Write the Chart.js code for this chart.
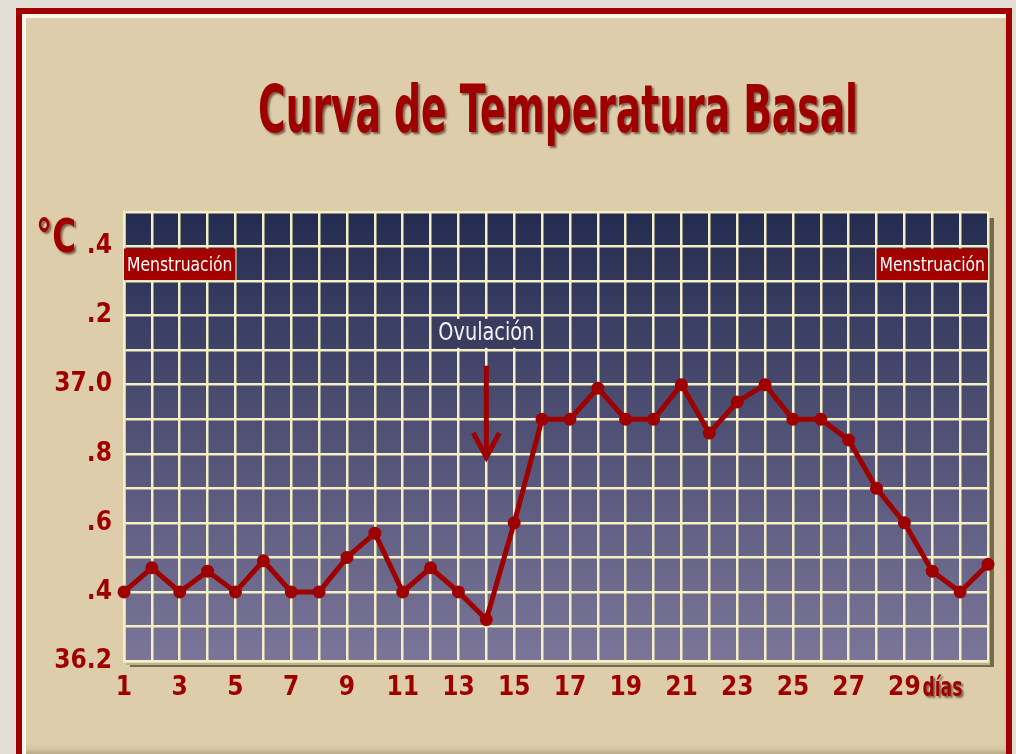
<!DOCTYPE html>
<html>
<head>
<meta charset="utf-8">
<script src="https://cdn.jsdelivr.net/npm/chart.js@4.4.0/dist/chart.umd.min.js"></script>
<style>
    html, body { margin: 0; padding: 0; }
    body { width: 1016px; height: 754px; background: #e3ded5; overflow: hidden; position: relative; }
    #frame {
        position: absolute; left: 16px; top: 8px; width: 996px; height: 760px;
        box-sizing: border-box; border: 6px solid #a00000; background: #decdab;
        box-shadow: inset 4px 4px 0 #fbf6ea, inset 0 -14px 8px -6px #8f815f;
    }
    canvas { position: absolute; left: 0; top: 0; }
</style>
</head>
<body>
<div id="frame"></div>
<canvas id="bbt-chart" width="1016" height="754"></canvas>
<script>
const days = [1, 2, 3, 4, 5, 6, 7, 8, 9, 10, 11, 12, 13, 14, 15, 16,
    17, 18, 19, 20, 21, 22, 23, 24, 25, 26, 27, 28, 29, 30, 31, 32];
const temps = [36.40, 36.47, 36.40, 36.46, 36.40, 36.49, 36.40, 36.40, 36.50, 36.57, 36.40,
    36.47, 36.40, 36.32, 36.60, 36.90, 36.90, 36.99, 36.90, 36.90, 37.00, 36.86,
    36.95, 37.00, 36.90, 36.90, 36.84, 36.70, 36.60, 36.46, 36.40, 36.48];
const xTickDays = [1, 3, 5, 7, 9, 11, 13, 15, 17, 19, 21, 23, 25, 27, 29];
const yTickValues = [36.2, 36.4, 36.6, 36.8, 37.0, 37.2, 37.4];
const yTickLabels = ['36.2', '.4', '.6', '.8', '37.0', '.2', '.4'];
const ovulationDay = 14;
const mensesStart = [1, 5];
const mensesEnd = [28, 32];

const narrow = "'Liberation Sans Narrow', 'DejaVu Sans Condensed', sans-serif";
const red = '#9e0000';
const gridColor = '#f4f0c4';

const decor = {
    id: 'decor',
    beforeDraw(chart) {
        const ctx = chart.ctx;
        const a = chart.chartArea;
        ctx.save();
        // drop shadow of the board
        ctx.fillStyle = 'rgba(80, 70, 45, 0.75)';
        ctx.fillRect(a.left + 6, a.top + 6, a.right - a.left, a.bottom - a.top);
        ctx.fillStyle = '#bdb393';
        ctx.fillRect(a.left + 2, a.bottom, a.right - a.left, 4);
        let grad = ctx.createLinearGradient(0, a.top, 0, a.bottom);
        grad.addColorStop(0, '#232c50');
        grad.addColorStop(0.45, '#4d4e72');
        grad.addColorStop(1, '#7b7699');
        ctx.fillStyle = grad;
        ctx.fillRect(a.left, a.top, a.right - a.left, a.bottom - a.top);
        ctx.restore();
    },
    beforeDatasetsDraw(chart) {
        const ctx = chart.ctx;
        const x = chart.scales.x;
        const y = chart.scales.y;
        ctx.save();
        // Menstruación boxes
        let top = y.getPixelForValue(37.4) + 2;
        let bot = y.getPixelForValue(37.3) - 1;
        ctx.font = '20px ' + narrow;
        ctx.textAlign = 'center';
        ctx.textBaseline = 'middle';
        [mensesStart, mensesEnd].forEach(function (r) {
            let l = x.getPixelForValue(r[0]);
            let rr = x.getPixelForValue(r[1]);
            ctx.fillStyle = '#a30000';
            ctx.fillRect(l, top, rr - l, bot - top);
            ctx.fillStyle = '#ffffff';
            ctx.fillText('Menstruación', (l + rr) / 2, (top + bot) / 2 + 1, rr - l - 6);
        });
        // Ovulación label and arrow
        let ox = x.getPixelForValue(ovulationDay);
        let oy = y.getPixelForValue(37.15);
        ctx.fillStyle = '#393b5f';
        ctx.fillRect(ox - 54, oy - 14, 108, 29);
        ctx.fillStyle = '#f4f2f4';
        ctx.font = '25px ' + narrow;
        ctx.fillText('Ovulación', ox, oy + 1, 96);
        ctx.strokeStyle = red;
        ctx.lineWidth = 5;
        ctx.beginPath();
        ctx.moveTo(ox, y.getPixelForValue(37.055));
        ctx.lineTo(ox, y.getPixelForValue(36.79));
        ctx.stroke();
        ctx.beginPath();
        ctx.moveTo(ox - 13, y.getPixelForValue(36.86));
        ctx.lineTo(ox, y.getPixelForValue(36.79));
        ctx.lineTo(ox + 13, y.getPixelForValue(36.86));
        ctx.stroke();
        ctx.restore();
    },
    afterDraw(chart) {
        const ctx = chart.ctx;
        const x = chart.scales.x;
        ctx.save();
        ctx.shadowColor = 'rgba(50, 10, 0, 0.55)';
        ctx.shadowOffsetX = 2;
        ctx.shadowOffsetY = 2;
        ctx.shadowBlur = 2;
        ctx.fillStyle = red;
        ctx.textAlign = 'center';
        ctx.textBaseline = 'alphabetic';
        ctx.font = 'bold 66px ' + narrow;
        ctx.fillText('Curva de Temperatura Basal', 558, 132, 600);
        ctx.textAlign = 'left';
        ctx.font = 'bold 46px ' + narrow;
        ctx.fillText('°C', 36, 252, 40);
        ctx.font = 'bold 26px ' + narrow;
        ctx.fillText('días', x.getPixelForValue(29) + 18, 696, 40);
        ctx.restore();
    }
};

document.addEventListener('DOMContentLoaded', function () {
    let bbt_chart = document.getElementById('bbt-chart').getContext('2d');
    let bbtChart = new Chart(bbt_chart, {
        type: 'line',
        data: {
            datasets: [
                {
                    label: 'Temperatura basal',
                    data: days.map(function (d, i) { return { x: d, y: temps[i] }; }),
                    borderColor: red,
                    backgroundColor: red,
                    borderWidth: 5,
                    pointRadius: 6.5,
                    pointBackgroundColor: red,
                    pointBorderWidth: 0,
                    tension: 0,
                    clip: false,
                },
            ],
        },
        options: {
            responsive: false,
            animation: false,
            layout: { padding: { top: 212, right: 28, bottom: 43, left: 0 } },
            plugins: {
                legend: { display: false },
                tooltip: { enabled: false },
            },
            scales: {
                x: {
                    type: 'linear',
                    min: 1,
                    max: 32,
                    afterFit: function (s) { s.height = 50; },
                    grid: { color: gridColor, lineWidth: 2.5, drawTicks: false },
                    border: { color: gridColor, width: 2.5 },
                    ticks: {
                        stepSize: 1,
                        autoSkip: false,
                        maxRotation: 0,
                        padding: 12,
                        color: red,
                        font: { family: narrow, size: 26, weight: 'bold' },
                        callback: function (v) {
                            return xTickDays.indexOf(v) >= 0 ? String(v) : '';
                        },
                    },
                },
                y: {
                    min: 36.2,
                    max: 37.5,
                    afterFit: function (s) { s.width = 124; },
                    grid: { color: gridColor, lineWidth: 2.5, drawTicks: false },
                    border: { color: gridColor, width: 2.5 },
                    ticks: {
                        stepSize: 0.1,
                        padding: 12,
                        color: red,
                        font: { family: narrow, size: 26, weight: 'bold' },
                        callback: function (v) {
                            for (let i = 0; i < yTickValues.length; i++) {
                                if (Math.abs(yTickValues[i] - v) < 0.001) return yTickLabels[i];
                            }
                            return '';
                        },
                    },
                },
            },
        },
        plugins: [decor],
    });
});
</script>
</body>
</html>
